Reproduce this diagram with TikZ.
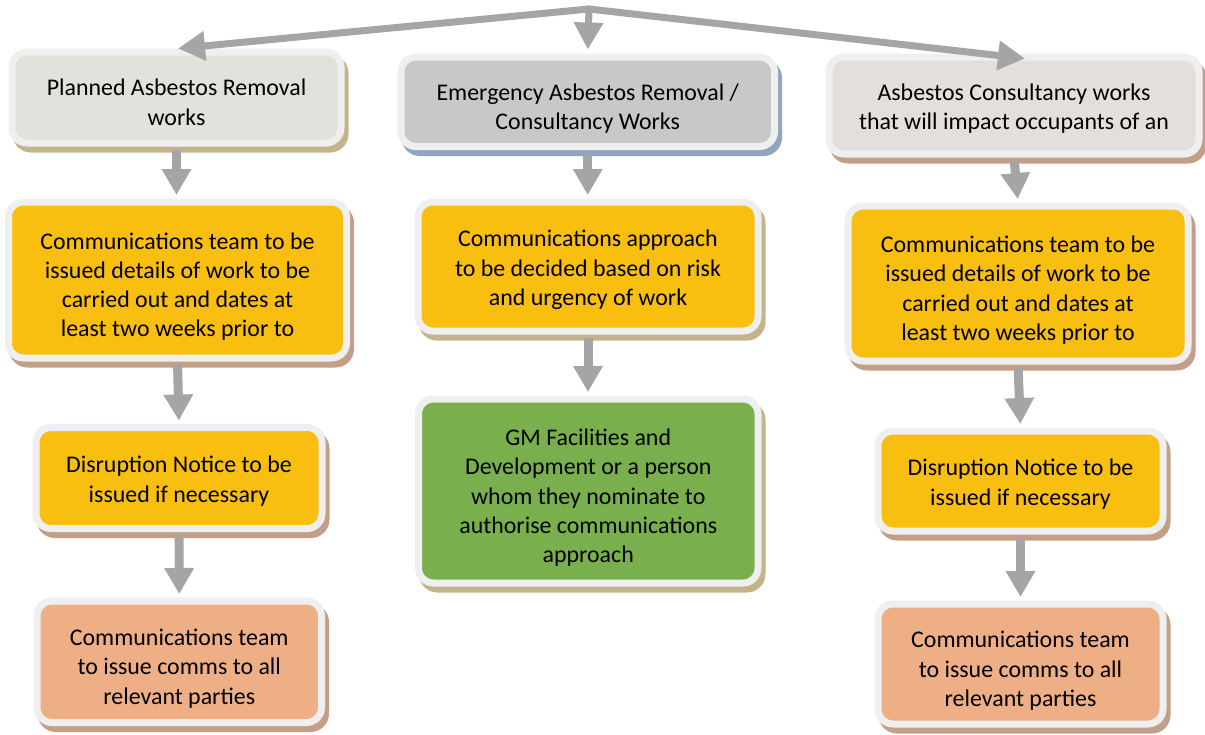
\documentclass[tikz,border=0pt]{standalone}
\usepackage{fontspec}
\setmainfont{Carlito}
\usetikzlibrary{arrows.meta,shadows}
\definecolor{ring}{HTML}{EFEFEF}
\definecolor{arrowgray}{HTML}{A5A5A5}
\definecolor{fillA}{HTML}{E2E1DC}
\definecolor{fillB}{HTML}{C8C8CA}
\definecolor{fillC}{HTML}{E3DFDC}
\definecolor{yellowbox}{HTML}{F8BE10}
\definecolor{greenbox}{HTML}{79AF4C}
\definecolor{salmonbox}{HTML}{EEAF87}
\definecolor{shadowolive}{HTML}{C4B48C}
\definecolor{shadowblue}{HTML}{8FA5C0}
\definecolor{shadowbrown}{HTML}{C39F88}
\newcommand\Ta{\rule{0pt}{32pt}}
\newcommand\Tb{\rule{0pt}{25pt}}
\newcommand\Bd{\rule[-6pt]{0pt}{6pt}}
\tikzset{
  boxbase/.style={draw=ring, line width=7pt, rounded corners=15pt, align=center,
    inner sep=0pt, text=black, font=\fontsize{23.9}{29.3}\selectfont},
  sz/.style 2 args={minimum width=#1pt, minimum height=#2pt},
  shOlive/.style={drop shadow={shadow xshift=4pt, shadow yshift=-6pt, fill=shadowolive, draw=shadowolive, line width=7pt, opacity=1}},
  shBlue/.style={drop shadow={shadow xshift=4pt, shadow yshift=-6pt, fill=shadowblue, draw=shadowblue, line width=7pt, opacity=1}},
  shBrown/.style={drop shadow={shadow xshift=4pt, shadow yshift=-6pt, fill=shadowbrown, draw=shadowbrown, line width=7pt, opacity=1}},
  flow/.style={draw=arrowgray, line width=9pt, -{Triangle[width=28pt,length=26pt]},
    shorten <=3.5pt, shorten >=3.5pt},
  topflow/.style={draw=arrowgray, line width=7pt, line cap=round, -{Triangle[width=28pt,length=27pt]}},
}
\begin{document}
\begin{tikzpicture}[x=1pt,y=-1pt]
\useasboundingbox[fill=white] (0,0) rectangle (1205,734);

% column A
\node[boxbase, shOlive, fill=fillA, sz={329}{91}] (A1) at (176.5,97.5)
  {\Ta Planned Asbestos Removal\\works\Bd};
\node[boxbase, shBrown, fill=yellowbox, sz={338}{156}] (A2) at (177.5,280)
  {\Ta Communications team to be\\issued details of work to be\\carried out and dates at\\least two weeks prior to\Bd};
\node[boxbase, shBrown, fill=yellowbox, sz={286}{101}] (A3) at (179,478)
  {\Tb Disruption Notice to be\\issued if necessary\Bd};
\node[boxbase, shBrown, fill=salmonbox, sz={284.5}{121.5}] (A4) at (179.25,661.75)
  {\Ta Communications team\\to issue comms to all\\relevant parties\Bd};

% column B
\node[boxbase, shBlue, fill=fillB, sz={373.5}{89.5}] (B1) at (587.75,101.75)
  {\Ta Emergency Asbestos Removal /\\Consultancy Works\Bd};
\node[boxbase, shOlive, fill=yellowbox, sz={340}{129}] (B2) at (588,266.5)
  {\Tb Communications approach\\to be decided based on risk\\and urgency of work\Bd};
\node[boxbase, shOlive, fill=greenbox, sz={339.5}{184}] (B3) at (588.25,491)
  {\Ta GM Facilities and\\Development or a person\\whom they nominate to\\authorise communications\\approach\Bd};

% column C
\node[boxbase, shBrown, fill=fillC, sz={370}{97}] (C1) at (1014,105.5)
  {\Tb Asbestos Consultancy works\\that will impact occupants of an\Bd};
\node[boxbase, shBrown, fill=yellowbox, sz={340}{155}] (C2) at (1018,283.5)
  {\Ta Communications team to be\\issued details of work to be\\carried out and dates at\\least two weeks prior to\Bd};
\node[boxbase, shBrown, fill=yellowbox, sz={285}{100}] (C3) at (1020.5,481)
  {\Tb Disruption Notice to be\\issued if necessary\Bd};
\node[boxbase, shBrown, fill=salmonbox, sz={285}{120}] (C4) at (1020.5,664)
  {\Ta Communications team\\to issue comms to all\\relevant parties\Bd};

% top arrows
\coordinate (top) at (589,9);
\draw[topflow] (top) -- ([xshift=1.5pt]A1.north);
\draw[topflow] (top) -- ([yshift=4pt]B1.north);
\draw[topflow] (top) -- ([xshift=11pt,yshift=-5pt]C1.north);

% vertical arrows
\draw[flow] (A1.south) -- (A1.south |- A2.north);
\draw[flow] (A2.south) -- (A3.north);
\draw[flow] (A3.south) -- (A4.north);
\draw[flow] (B1.south) -- (B1.south |- B2.north);
\draw[flow] (B2.south) -- (B2.south |- B3.north);
\draw[flow] (C1.south) -- (C2.north);
\draw[flow] (C2.south) -- (C3.north);
\draw[flow] (C3.south) -- (C4.north);
\end{tikzpicture}
\end{document}
